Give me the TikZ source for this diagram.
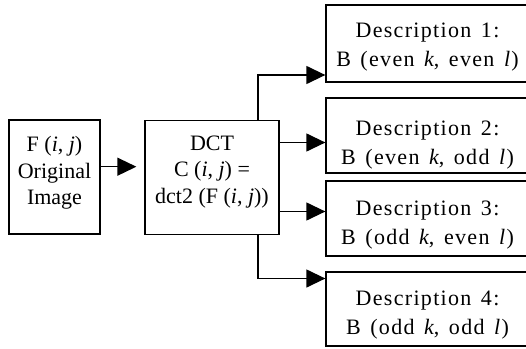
\documentclass[tikz,border=0pt]{standalone}
\usepackage{fontspec}
\setmainfont{Liberation Serif}
\newfontfamily\descfont{Liberation Serif}[LetterSpace=6,WordSpace=1.4]
\usetikzlibrary{arrows.meta}
\begin{document}
\begin{tikzpicture}[x=1pt,y=-1pt,
  box/.style={draw,line width=1.3pt,inner sep=0pt},
  txt/.style={align=center,font=\fontsize{22}{26.5}\selectfont,inner sep=0pt},
  dtxt/.style={align=center,font=\descfont\fontsize{22}{29}\selectfont,inner sep=0pt},
  conn/.style={line width=1.3pt,-{Triangle[length=19pt,width=18pt]}},
]
\useasboundingbox (0,0) rectangle (526,348);
\fill[white] (0,0) rectangle (526,348);
% boxes
\node[box,minimum width=91pt,minimum height=114pt] (fbox) at (54.5,177) {};
\node[box,minimum width=134pt,minimum height=113.5pt] (dct) at (212,177.5) {};
\node[box,minimum width=206pt,minimum height=77pt] (d1) at (429,43.5) {};
\node[box,minimum width=206pt,minimum height=75pt] (d2) at (429,135.5) {};
\node[box,minimum width=206pt,minimum height=75pt] (d3) at (429,218.5) {};
\node[box,minimum width=206pt,minimum height=74pt] (d4) at (429,309) {};
% texts
\node[txt] (ftext) at (54.5,173) {F (\textit{i}, \textit{j})\\Original\\Image};
\node[txt] (dcttext) at (212,172) {DCT\\C (\textit{i}, \textit{j}) =\\dct2 (F (\textit{i}, \textit{j}))};
\node[dtxt] (t1) at (427.5,47.5) {Description 1:\\B (even \textit{k}, even \textit{l})};
\node[dtxt] (t2) at (427.5,145) {Description 2:\\B (even \textit{k}, odd \textit{l})};
\node[dtxt] (t3) at (427.5,225) {Description 3:\\B (odd \textit{k}, even \textit{l})};
\node[dtxt] (t4) at (427.5,315) {Description 4:\\B (odd \textit{k}, odd \textit{l})};
% connectors
\coordinate (y0) at (0,166.7);
\coordinate (top) at (258,75);
\coordinate (y2) at (0,142.5);
\coordinate (y3) at (0,211.5);
\coordinate (bot) at (258,278.5);
\draw[conn,shorten >=8pt] (fbox.east |- y0) -- (dct.west |- y0);
\draw[conn] (dct.north -| top) -- (top) -- (d1.west |- top);
\draw[conn] (dct.east |- y2) -- (d2.west |- y2);
\draw[conn] (dct.east |- y3) -- (d3.west |- y3);
\draw[conn] (dct.south -| bot) -- (bot) -- (d4.west |- bot);
\end{tikzpicture}
\end{document}
